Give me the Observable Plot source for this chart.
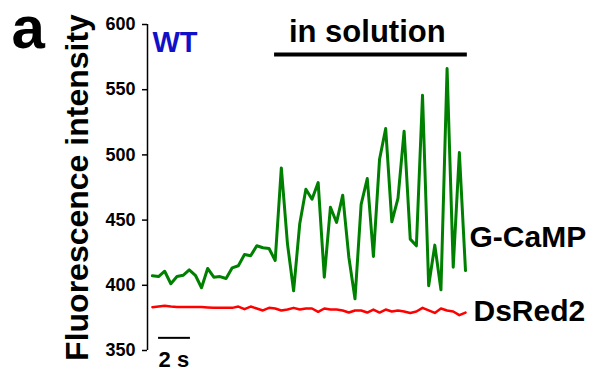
<!DOCTYPE html>
<html><head><meta charset="utf-8">
<script src="https://cdn.jsdelivr.net/npm/d3@7"></script>
<script src="https://cdn.jsdelivr.net/npm/@observablehq/plot@0.6"></script>
<style>body{margin:0;background:#fff} svg{display:block}</style>
</head><body><div id="chart"></div>
<script>
// sampling interval (s) between frames
const frameInterval = 0.385;

// G-CaMP fluorescence (green trace)
const gcamp = [407.3,406.7,410.8,401.2,406.7,407.7,411.9,407.7,398.1,412.9,406.2,406.7,405.2,413.4,415,423.6,422.6,430.3,428.8,428.2,419,490,431.8,395.8,447.2,473.7,466,478.8,406.2,459.9,448.2,469.1,421.5,389.6,462,481.9,422.1,496.7,520.2,448.7,466.6,518.2,435.4,430.3,545.8,399.6,430.8,396.5,566.3,413.9,501.8,411.3];

// DsRed2 fluorescence (red trace)
const dsred = [383.2,383.7,384.3,383.7,383.4,383.4,383.4,383.4,383.4,383.0,382.7,382.7,382.7,382.7,383.7,381.7,383.7,382.2,380.7,382.7,382.2,380.7,381.4,382.7,381.4,382.2,382.2,379.7,382.2,381.4,381.4,380.7,379.1,380.7,380.7,379.1,381.4,379.1,381.4,379.9,380.7,379.9,378.8,379.9,382.7,380.7,378.8,382.2,380.7,379.9,377.1,379.1];

const yTicks = [350,400,450,500,550,600];
const seriesNames = ["G-CaMP","DsRed2"];
const genotype = "WT";
const conditionLabel = "in solution";
const conditionFrames = [19.9, 51.3];   // frames covered by the condition bar
const scaleBarSeconds = 2;
const scaleBarLabel = "2 s";
const yLabel = "Fluorescence intensity";
const panelLetter = "a";

const times = gcamp.map((_, i) => i * frameInterval);
const greenData = gcamp.map((v, i) => ({t: times[i], value: v}));
const redData = dsred.map((v, i) => ({t: times[i], value: v}));
const xAxisPos = -0.8 * frameInterval;
const lastT = times[times.length - 1];

const font = "'Liberation Sans', Arial, Helvetica, sans-serif";

const chart = Plot.plot({
  width: 594, height: 372,
  marginLeft: 147, marginRight: 129, marginTop: 24, marginBottom: 22,
  style: {fontFamily: font, fontWeight: "bold", background: "#fff"},
  x: {domain: [xAxisPos, lastT], axis: null},
  y: {domain: [350, 600]},
  marks: [
    Plot.ruleX([xAxisPos], {y1: 350, y2: 600, stroke: "#000", strokeWidth: 1.5}),
    Plot.axisY({ticks: yTicks, tickSize: 5, tickPadding: 7, fontSize: 18, fontWeight: "bold", label: null, strokeWidth: 1.5, fill: "#000"}),
    Plot.line(redData, {x: "t", y: "value", stroke: "#ff0000", strokeWidth: 2.5}),
    Plot.line(greenData, {x: "t", y: "value", stroke: "#008000", strokeWidth: 3}),
    // condition bar + label
    Plot.ruleY([577], {x1: conditionFrames[0] * frameInterval, x2: conditionFrames[1] * frameInterval, stroke: "#000", strokeWidth: 4}),
    Plot.text([conditionLabel], {x: 35.0 * frameInterval, y: 586.4, text: d => d, textAnchor: "middle", lineAnchor: "bottom", fontSize: 31, fontWeight: "bold", fill: "#000"}),
    // genotype
    Plot.text([genotype], {x: 0, y: 578.8, text: d => d, textAnchor: "start", lineAnchor: "bottom", fontSize: 29, fontWeight: "bold", fill: "#1010c8"}),
    // series labels
    Plot.text([seriesNames[0]], {x: lastT, y: 429.2, dx: 4, text: d => d, textAnchor: "start", lineAnchor: "bottom", fontSize: 30, fontWeight: "bold", fill: "#000"}),
    Plot.text([seriesNames[1]], {x: lastT, y: 373, dx: 8, text: d => d, textAnchor: "start", lineAnchor: "bottom", fontSize: 30, fontWeight: "bold", fill: "#000"}),
    // time scale bar
    Plot.ruleY([359.7], {x1: frameInterval, x2: frameInterval + scaleBarSeconds, stroke: "#000", strokeWidth: 2}),
    Plot.text([scaleBarLabel], {x: frameInterval, y: 337.2, text: d => d, textAnchor: "start", lineAnchor: "bottom", fontSize: 22, fontWeight: "bold", fill: "#000"}),
    // y label
    Plot.text([yLabel], {frameAnchor: "left", dx: -60, dy: 0, rotate: -90, text: d => d, textAnchor: "middle", lineAnchor: "bottom", fontSize: 32, fontWeight: "bold", fill: "#000"}),
    // panel letter
    Plot.text([panelLetter], {frameAnchor: "top-left", dx: -136, dy: 23, text: d => d, textAnchor: "start", lineAnchor: "bottom", fontSize: 60, fontWeight: "bold", fill: "#000"})
  ]
});
document.getElementById("chart").appendChild(chart);
</script>
</body></html>
